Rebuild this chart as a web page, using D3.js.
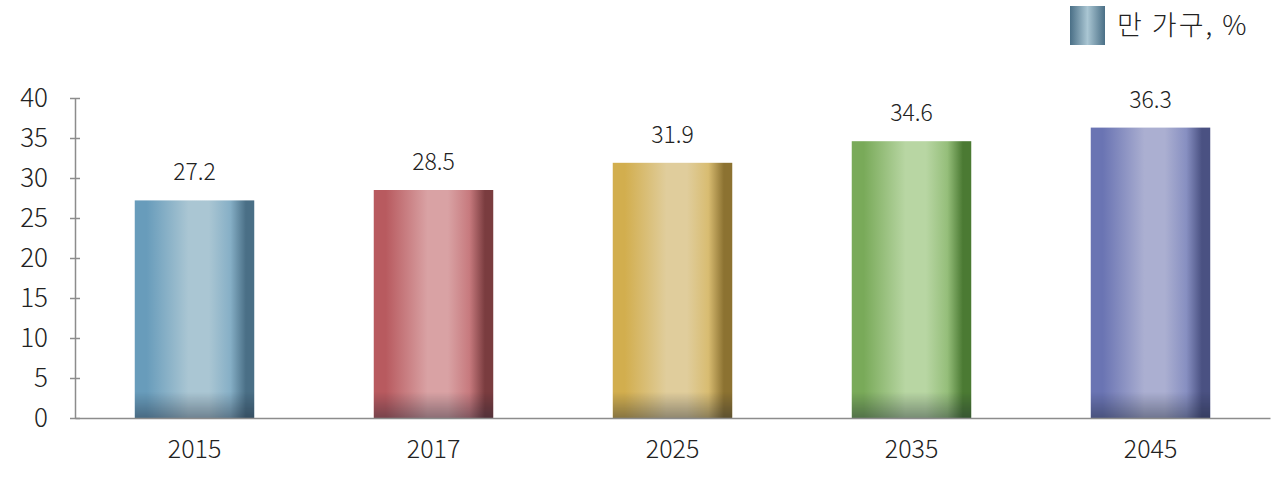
<!DOCTYPE html>
<html>
<head>
<meta charset="utf-8">
<script src="https://cdn.jsdelivr.net/npm/d3@7"></script>
<style>
  body { margin: 0; background: #fff; }
  svg text { font-family: "Noto Sans CJK KR", "DejaVu Sans", sans-serif; font-weight: 300; fill: #222; }
</style>
</head>
<body>
<svg id="chart" width="1280" height="483"></svg>
<script>
const years = ["2015", "2017", "2025", "2035", "2045"];
const values = [27.2, 28.5, 31.9, 34.6, 36.3];
const yTicks = [0, 5, 10, 15, 20, 25, 30, 35, 40];
const legendLabel = "만 가구, %";
// left / middle / right shades for each bar
const barColors = [
  ["#689cbb", "#aac6d3", "#4a6f86"],
  ["#b85a5f", "#d9a2a4", "#7a3c3f"],
  ["#d2ae4e", "#e0cd9c", "#8c7231"],
  ["#79aa59", "#b8d6a3", "#4b7a33"],
  ["#6a74b3", "#abafd1", "#4a5182"]
];

let svg = d3.select("#chart");
let defs = svg.append("defs");

let x = d3.scaleBand().domain(years).range([75, 1270]).paddingInner(0.5).paddingOuter(0.25);
let y = d3.scaleLinear().domain([0, 40]).range([418, 98]);

barColors.forEach(function (c, i) {
  let g = defs.append("linearGradient").attr("id", "grad" + i)
    .attr("x1", "0").attr("x2", "1").attr("y1", "0").attr("y2", "0");
  let mid = d3.interpolateRgb(c[0], c[1])(0.45);
  g.append("stop").attr("offset", "0").attr("stop-color", c[0]);
  g.append("stop").attr("offset", "0.1").attr("stop-color", c[0]);
  g.append("stop").attr("offset", "0.45").attr("stop-color", c[1]);
  g.append("stop").attr("offset", "0.62").attr("stop-color", c[1]);
  g.append("stop").attr("offset", "0.8").attr("stop-color", mid);
  g.append("stop").attr("offset", "0.93").attr("stop-color", c[2]);
  g.append("stop").attr("offset", "1").attr("stop-color", c[2]);
});
let shade = defs.append("radialGradient").attr("id", "shade")
  .attr("cx", "0.5").attr("cy", "0").attr("r", "0.75");
shade.append("stop").attr("offset", "0.3").attr("stop-color", "#1a2030").attr("stop-opacity", 0.12);
shade.append("stop").attr("offset", "1").attr("stop-color", "#1a2030").attr("stop-opacity", 0.5);
let fade = defs.append("linearGradient").attr("id", "fade")
  .attr("x1", "0").attr("x2", "0").attr("y1", "0").attr("y2", "1");
fade.append("stop").attr("offset", "0").attr("stop-color", "#fff").attr("stop-opacity", 0);
fade.append("stop").attr("offset", "1").attr("stop-color", "#fff").attr("stop-opacity", 1);
defs.append("mask").attr("id", "fadeMask").attr("maskContentUnits", "objectBoundingBox")
  .append("rect").attr("width", 1).attr("height", 1).attr("fill", "url(#fade)");

// bars
svg.selectAll(".bar").data(values).enter().append("rect")
  .attr("x", (d, i) => x(years[i]))
  .attr("y", d => y(d))
  .attr("width", x.bandwidth())
  .attr("height", d => y(0) - y(d))
  .attr("fill", (d, i) => `url(#grad${i})`);
svg.selectAll(".shade").data(values).enter().append("rect")
  .attr("x", (d, i) => x(years[i]))
  .attr("y", y(0) - 26)
  .attr("width", x.bandwidth())
  .attr("height", 26)
  .attr("fill", "#1a2030")
  .attr("fill-opacity", 0.4)
  .attr("mask", "url(#fadeMask)");

// value labels
svg.selectAll(".val").data(values).enter().append("text")
  .attr("x", (d, i) => x(years[i]) + x.bandwidth() / 2)
  .attr("y", d => y(d) - 20)
  .attr("text-anchor", "middle")
  .attr("font-size", 23)
  .text(d => d.toFixed(1));

// y axis
let yAxis = svg.append("g").attr("transform", "translate(75,0)")
  .call(d3.axisLeft(y).tickValues(yTicks).tickSize(0).tickPadding(27));
yAxis.select(".domain").attr("stroke", "#8c8c8c").attr("stroke-width", 1.5);
yAxis.selectAll("text").attr("font-size", 26).attr("fill", "#222");
yAxis.selectAll(".tick").append("line")
  .attr("x1", -5).attr("x2", 5).attr("stroke", "#8c8c8c").attr("stroke-width", 1.5);

// x axis
let xAxis = svg.append("g").attr("transform", `translate(0,${y(0)})`)
  .call(d3.axisBottom(x).tickSize(0).tickPadding(22));
xAxis.select(".domain").attr("stroke", "#8c8c8c").attr("stroke-width", 1.5);
xAxis.selectAll("text").attr("font-size", 25).attr("fill", "#222");

// legend
defs.append("linearGradient").attr("id", "legGrad")
  .attr("x1", "0").attr("x2", "1")
  .call(g => {
    g.append("stop").attr("offset", "0").attr("stop-color", barColors[0][2]);
    g.append("stop").attr("offset", "0.5").attr("stop-color", barColors[0][1]);
    g.append("stop").attr("offset", "1").attr("stop-color", barColors[0][2]);
  });
svg.append("rect").attr("x", 1070).attr("y", 6).attr("width", 35).attr("height", 39)
  .attr("fill", "url(#legGrad)");
svg.append("text").attr("x", 1117).attr("y", 35).attr("font-size", 27)
  .attr("letter-spacing", 2).text(legendLabel);
</script>
</body>
</html>
